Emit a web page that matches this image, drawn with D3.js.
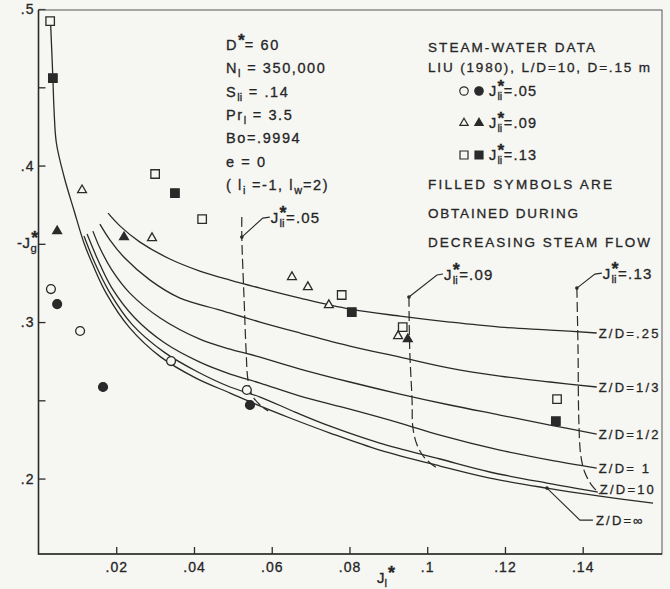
<!DOCTYPE html>
<html>
<head>
<meta charset="utf-8">
<script src="https://cdn.jsdelivr.net/npm/d3@7"></script>
<style>
  html, body { margin: 0; padding: 0; background: #f6f6f3; }
  svg { display: block; }
  text { font-family: 'Liberation Sans', Arial, sans-serif; fill: #262626; stroke: #262626; stroke-width: 0.3px; }
</style>
</head>
<body>
<svg id="chart" width="670" height="589"></svg>
<script>
// [A] Datos -------------------------------------------------------------------
const xTicks = [0.02, 0.04, 0.06, 0.08, 0.10, 0.12, 0.14];
const yTicks = [0.2, 0.3, 0.4, 0.5];
const yMinorTicks = [0.25, 0.35, 0.45];

// curvas teoricas -J_g* vs J_l* para cada Z/D
const zdNames = ["Z/D=.25", "Z/D=1/3", "Z/D=1/2", "Z/D= 1", "Z/D=10", "Z/D=\u221e"];
const zd025 = [[0.0179,0.3696],[0.0210,0.3613],[0.0261,0.3511],[0.0338,0.3403],[0.0415,0.3326],[0.0493,0.3268],[0.0570,0.3217],[0.0673,0.3153],[0.0801,0.3083],[0.0930,0.3038],[0.1058,0.3000],[0.1187,0.2968],[0.1316,0.2949],[0.1436,0.2930]];
const zd033 = [[0.0158,0.3626],[0.0184,0.3524],[0.0222,0.3409],[0.0287,0.3268],[0.0364,0.3153],[0.0467,0.3077],[0.0570,0.3000],[0.0673,0.2930],[0.0801,0.2847],[0.0930,0.2776],[0.1058,0.2706],[0.1187,0.2655],[0.1316,0.2617],[0.1436,0.2585]];
const zd050 = [[0.0140,0.3581],[0.0158,0.3473],[0.0189,0.3332],[0.0235,0.3185],[0.0313,0.3026],[0.0415,0.2891],[0.0493,0.2827],[0.0570,0.2776],[0.0673,0.2700],[0.0801,0.2617],[0.0930,0.2540],[0.1058,0.2470],[0.1187,0.2406],[0.1316,0.2342],[0.1436,0.2284]];
const zd1 = [[0.0125,0.3562],[0.0153,0.3396],[0.0189,0.3217],[0.0248,0.3026],[0.0325,0.2866],[0.0415,0.2744],[0.0493,0.2668],[0.0570,0.2610],[0.0673,0.2527],[0.0801,0.2444],[0.0930,0.2355],[0.1033,0.2278],[0.1187,0.2182],[0.1316,0.2118],[0.1436,0.2067]];
const zd10 = [[0.0117,0.3550],[0.0145,0.3377],[0.0181,0.3198],[0.0240,0.2987],[0.0323,0.2808],[0.0410,0.2681],[0.0493,0.2585],[0.0570,0.2521],[0.0660,0.2425],[0.0750,0.2335],[0.0878,0.2227],[0.1033,0.2125],[0.1161,0.2042],[0.1308,0.1971],[0.1439,0.1914]];
const zdInf = [[0.0031,0.4917],[0.0037,0.4559],[0.0040,0.4355],[0.0046,0.4144],[0.0066,0.3927],[0.0091,0.3716],[0.0117,0.3505],[0.0140,0.3364],[0.0174,0.3185],[0.0233,0.2968],[0.0315,0.2776],[0.0405,0.2642],[0.0493,0.2546],[0.0552,0.2482],[0.0647,0.2387],[0.0750,0.2291],[0.0878,0.2182],[0.1033,0.2080],[0.1161,0.2003],[0.1308,0.1939],[0.1444,0.1888],[0.1581,0.1843]];
const zdCurves = [zd025, zd033, zd050, zd1, zd10, zdInf];
const zdInfMark = [0.1308, 0.1939];

// lineas J_li* constantes (discontinuas)
const jliNames = [".05", ".09", ".13"];
const jli05 = [[0.0523,0.3671],[0.0523,0.3543],[0.0529,0.3141],[0.0534,0.2821],[0.0539,0.2629],[0.0549,0.2534],[0.0570,0.2470],[0.0591,0.2431]];
const jli09 = [[0.0953,0.3160],[0.0955,0.2821],[0.0961,0.2502],[0.0963,0.2329],[0.0974,0.2214],[0.0994,0.2131],[0.1025,0.2067]];
const jli13 = [[0.1385,0.3217],[0.1388,0.2821],[0.1390,0.2374],[0.1395,0.2150],[0.1405,0.2042],[0.1423,0.1958],[0.1444,0.1901]];
const jliLines = [jli05, jli09, jli13];
const jliDots = [[0.0523,0.3543],[0.0953,0.3160],[0.1385,0.3217]];

// datos experimentales vapor-agua, Liu (1980)
const circOpen = [[0.0032,0.3211],[0.0107,0.2943],[0.0341,0.2751],[0.0536,0.2566]];
const circFill = [[0.0048,0.3115],[0.0166,0.2585],[0.0544,0.2470]];
const triOpen = [[0.0112,0.3843],[0.0292,0.3537],[0.0652,0.3288],[0.0693,0.3224],[0.0747,0.3109],[0.0925,0.2911]];
const triFill = [[0.0048,0.3581],[0.0220,0.3543],[0.0950,0.2891]];
const sqOpen = [[0.0030,0.4923],[0.0300,0.3946],[0.0421,0.3658],[0.0780,0.3173],[0.0937,0.2968],[0.1334,0.2508]];
const sqFill = [[0.0037,0.4559],[0.0351,0.3824],[0.0806,0.3064],[0.1331,0.2367]];

// textos
const paramLines = [
  [{t: "D"}, {sup: "*"}, {t: "= 60"}],
  [{t: "N"}, {sub: "l"}, {t: " = 350,000"}],
  [{t: "S"}, {sub: "li"}, {t: " = .14"}],
  [{t: "Pr"}, {sub: "l"}, {t: " = 3.5"}],
  [{t: "Bo=.9994"}],
  [{t: "e  = 0"}],
  [{t: "( l"}, {sub: "i"}, {t: " =-1,  l"}, {sub: "w"}, {t: "=2)"}]
];
const legendHead = ["STEAM-WATER DATA", "LIU (1980), L/D=10, D=.15 m"];
const legendNote = ["FILLED SYMBOLS ARE", "OBTAINED DURING", "DECREASING STEAM FLOW"];

// [B] Configuracion -------------------------------------------------------------
const width = 670, height = 589;
const mLeft = 38.5, mRight = 662, mTop = 10, mBottom = 554;
const ink = "#2a2a2a";
const paper = "#f6f6f3";

const x = d3.scaleLinear().domain([0, 0.1604]).range([mLeft, mRight]);
const y = d3.scaleLinear().domain([0.1518, 0.4994]).range([mBottom, mTop]);

const svg = d3.select("#chart");
svg.append("rect").attr("width", width).attr("height", height).attr("fill", paper);

const trimZero = d => String(+d.toFixed(2)).replace(/^0/, "");

// [C] Ejes ------------------------------------------------------------------------
const xAxis = svg.append("g")
  .attr("transform", `translate(0,${mBottom})`)
  .call(d3.axisBottom(x).tickValues(xTicks).tickSizeInner(-7).tickSizeOuter(0)
    .tickPadding(8).tickFormat(trimZero));

const yAxis = svg.append("g")
  .attr("transform", `translate(${mLeft},0)`)
  .call(d3.axisLeft(y).tickValues(yTicks.concat(yMinorTicks)).tickSizeInner(-7)
    .tickSizeOuter(0).tickPadding(4)
    .tickFormat(d => yTicks.includes(d) ? trimZero(d) : ""));

[xAxis, yAxis].forEach(a => {
  a.select(".domain").remove();
  a.selectAll(".tick line").attr("stroke", ink).attr("stroke-width", 1.3);
  a.selectAll(".tick text")
    .style("font-family", "'Liberation Sans', Arial, sans-serif")
    .style("font-size", "14px").style("letter-spacing", "1px").attr("fill", ink);
});

// marco
svg.append("rect")
  .attr("x", mLeft).attr("y", mTop).attr("width", mRight - mLeft).attr("height", mBottom - mTop)
  .attr("fill", "none").attr("stroke", "#555").attr("stroke-width", 1);
svg.append("path")
  .attr("d", `M${mLeft},${mTop}V${mBottom}H${mRight}`)
  .attr("fill", "none").attr("stroke", ink).attr("stroke-width", 1.6);

// [D] Texto con subindices (un solo <text> con tspans) ------------------------
function rich(g, x0, y0, parts, size, spacing) {
  const t = g.append("text").attr("x", x0).attr("y", y0).style("font-size", size + "px");
  let base = 0, pendingDx = 0;
  const shift = target => { const d = target - base; base = target; return d; };
  parts.forEach(p => {
    if (p.t !== undefined) {
      t.append("tspan").attr("dx", pendingDx).attr("dy", shift(0))
        .style("letter-spacing", spacing + "px").text(p.t);
      pendingDx = 0;
    } else if (p.sub !== undefined) {
      t.append("tspan").attr("dx", pendingDx).attr("dy", shift(size * 0.28))
        .style("font-size", (size * 0.75) + "px").text(p.sub);
      pendingDx = 1;
    } else if (p.sup !== undefined) {
      t.append("tspan").attr("dx", pendingDx).attr("dy", shift(-size * 0.28))
        .style("font-size", (size * 1.2) + "px").style("font-weight", "bold").text(p.sup);
      pendingDx = 0;
    } else if (p.stack !== undefined) {
      const s = t.append("tspan").attr("dx", pendingDx).attr("dy", shift(size * 0.28))
        .style("font-size", (size * 0.75) + "px").text(p.stack);
      const w = s.node().getComputedTextLength();
      const st = t.append("tspan").attr("dy", shift(-size * 0.28))
        .style("font-size", (size * 1.2) + "px").style("font-weight", "bold").text("*");
      const sw = st.node().getComputedTextLength();
      st.attr("dx", -(w / 2 + sw / 2) + 1);
      pendingDx = w / 2 - sw / 2 + 0.5;
    }
  });
  return t;
}

// [E] Curvas Z/D --------------------------------------------------------------
const line = d3.line().x(d => x(d[0])).y(d => y(d[1])).curve(d3.curveCatmullRom.alpha(0.5));
const plot = svg.append("g");

plot.selectAll("path.zd")
  .data(zdCurves)
  .join("path")
  .attr("class", "zd")
  .attr("d", line)
  .attr("fill", "none").attr("stroke", ink).attr("stroke-width", 1.3);

// etiquetas Z/D
const zdLabels = svg.append("g");
zdCurves.forEach((c, i) => {
  const last = c[c.length - 1];
  let lx = x(last[0]) + 2, ly = y(last[1]) + 5;
  if (i === 4) ly = y(last[1]) + 2;
  if (i === 5) {
    const mx = x(zdInfMark[0]), my = y(zdInfMark[1]);
    zdLabels.append("path")
      .attr("d", `M${mx},${my}L${mx + 33},${my + 32}H${mx + 46}`)
      .attr("fill", "none").attr("stroke", ink).attr("stroke-width", 1.1);
    zdLabels.append("circle").attr("cx", mx).attr("cy", my).attr("r", 1.8).attr("fill", ink);
    lx = mx + 49; ly = my + 37;
  }
  zdLabels.append("text").attr("x", lx).attr("y", ly)
    .style("font-size", "13px").style("letter-spacing", "2.2px").text(zdNames[i]);
});

// [F] Lineas J_li* ------------------------------------------------------------
plot.selectAll("path.jli")
  .data(jliLines)
  .join("path")
  .attr("class", "jli")
  .attr("d", line)
  .attr("fill", "none").attr("stroke", ink).attr("stroke-width", 1.2)
  .attr("stroke-dasharray", "10,4");

const leaderOffsets = [[[21, -19], [28, -20]], [[28, -22], [34, -23]], [[18, -14], [25, -15]]];
const jliLabels = svg.append("g");
jliDots.forEach((d, i) => {
  const px = x(d[0]), py = y(d[1]);
  const o = leaderOffsets[i];
  jliLabels.append("path")
    .attr("d", `M${px},${py}L${px + o[0][0]},${py + o[0][1]}L${px + o[1][0]},${py + o[1][1]}`)
    .attr("fill", "none").attr("stroke", ink).attr("stroke-width", 1.1);
  jliLabels.append("circle").attr("cx", px).attr("cy", py).attr("r", 1.8).attr("fill", ink);
  rich(jliLabels, px + o[1][0] + 1, py + o[1][1] + 6,
    [{t: "J"}, {stack: "li"}, {t: "=" + jliNames[i]}], 15, 1.2);
});

// [G] Simbolos experimentales -------------------------------------------------
const pts = svg.append("g");
function drawSymbols(data, type, size, filled) {
  pts.selectAll(null)
    .data(data)
    .join("path")
    .attr("transform", d => `translate(${x(d[0])},${y(d[1])})`)
    .attr("d", d3.symbol().type(type).size(size))
    .attr("fill", filled ? ink : paper)
    .attr("stroke", ink).attr("stroke-width", 1.3);
}
drawSymbols(circOpen, d3.symbolCircle, 62, false);
drawSymbols(circFill, d3.symbolCircle, 62, true);
drawSymbols(triOpen, d3.symbolTriangle, 34, false);
drawSymbols(triFill, d3.symbolTriangle, 34, true);
drawSymbols(sqOpen, d3.symbolSquare, 72, false);
drawSymbols(sqFill, d3.symbolSquare, 72, true);

// [H] Bloque de parametros ----------------------------------------------------
const params = svg.append("g");
paramLines.forEach((parts, i) => {
  rich(params, 226, 50 + i * 23.3, parts, 14.5, 1.6);
});

// [I] Leyenda -----------------------------------------------------------------
const leg = svg.append("g");
const headLen = [167, 222];
legendHead.forEach((t, i) => {
  leg.append("text").attr("x", 428).attr("y", 52 + i * 20)
    .attr("textLength", headLen[i]).attr("lengthAdjust", "spacing")
    .style("font-size", "13.5px").text(t);
});
const legRows = [
  [d3.symbolCircle, 56, ".05"],
  [d3.symbolTriangle, 30, ".09"],
  [d3.symbolSquare, 64, ".13"]
];
legRows.forEach((r, i) => {
  const cy = 91 + i * 32;
  [false, true].forEach((f, k) => {
    leg.append("path")
      .attr("transform", `translate(${464 + k * 15},${cy})`)
      .attr("d", d3.symbol().type(r[0]).size(r[1]))
      .attr("fill", f ? ink : paper).attr("stroke", ink).attr("stroke-width", 1.2);
  });
  rich(leg, 489, cy + 5, [{t: "J"}, {stack: "li"}, {t: "=" + r[2]}], 14.5, 1.2);
});
const noteLen = [184, 150, 222];
legendNote.forEach((t, i) => {
  leg.append("text").attr("x", 428).attr("y", 189 + i * 29)
    .attr("textLength", noteLen[i]).attr("lengthAdjust", "spacing")
    .style("font-size", "13.5px").text(t);
});

// [J] Titulos de ejes ---------------------------------------------------------
rich(svg.append("g"), 17, 248, [{t: "-J"}, {stack: "g"}], 15, 0.5);
rich(svg.append("g"), 377, 583, [{t: "J"}, {sub: "l"}, {sup: "*"}], 15, 0);
</script>
</body>
</html>
